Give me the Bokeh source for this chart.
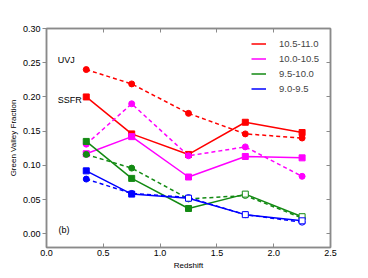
from bokeh.plotting import figure
from bokeh.models import (ColumnDataSource, Legend, LegendItem, LinearAxis, Label,
                          Range1d, FixedTicker, CustomJSTickFormatter)
from bokeh.embed import file_html
from bokeh.resources import INLINE

redshift = [0.35, 0.75, 1.25, 1.75, 2.25]
mass_bins = ["10.5-11.0", "10.0-10.5", "9.5-10.0", "9.0-9.5"]
colors = ["#ff0000", "#ff00ff", "#138a13", "#0000ff"]

# SSFR selection (solid, squares)
ssfr = {
    "10.5-11.0": [0.200, 0.146, 0.116, 0.163, 0.148],
    "10.0-10.5": [0.117, 0.142, 0.083, 0.113, 0.111],
    "9.5-10.0":  [0.135, 0.081, 0.037, 0.058, 0.025],
    "9.0-9.5":   [0.092, 0.058, 0.052, 0.028, 0.019],
}
# UVJ selection (dashed, circles)
uvj = {
    "10.5-11.0": [0.240, 0.219, 0.176, 0.146, 0.140],
    "10.0-10.5": [0.131, 0.190, 0.114, 0.127, 0.084],
    "9.5-10.0":  [0.116, 0.096, 0.051, 0.056, 0.023],
    "9.0-9.5":   [0.080, 0.059, 0.053, 0.028, 0.017],
}
# filled (1) or open (0) markers
filled = {
    "10.5-11.0": [1, 1, 1, 1, 1],
    "10.0-10.5": [1, 1, 1, 1, 1],
    "9.5-10.0":  [1, 1, 1, 0, 0],
    "9.0-9.5":   [1, 1, 0, 0, 0],
}

FONT = "Liberation Sans"
GRAY = "#8a8a8a"

p = figure(width=352, height=272, output_backend="svg", toolbar_location=None,
           x_range=Range1d(0, 2.5), y_range=Range1d(-0.02, 0.30),
           min_border_left=46, min_border_right=22, min_border_top=28,
           min_border_bottom=23)
p.grid.visible = False
p.outline_line_color = GRAY
p.outline_line_width = 1.5
p.background_fill_color = "white"

legend_items = []
for name, col in zip(mass_bins, colors):
    fills = [col if f else "white" for f in filled[name]]
    src_s = ColumnDataSource(dict(x=redshift, y=ssfr[name], fc=fills))
    src_u = ColumnDataSource(dict(x=redshift, y=uvj[name], fc=fills))
    p.line("x", "y", source=src_u, line_color=col, line_width=1.5, line_dash="4 3")
    p.scatter("x", "y", source=src_u, marker="circle", size=6, line_color=col,
              fill_color="fc", line_width=1)
    ls = p.line("x", "y", source=src_s, line_color=col, line_width=1.5)
    p.scatter("x", "y", source=src_s, marker="square", size=6, line_color=col,
              fill_color="fc", line_width=1)
    legend_items.append(LegendItem(label=name, renderers=[ls]))

xt = FixedTicker(ticks=[0.0, 0.5, 1.0, 1.5, 2.0, 2.5])
yt = FixedTicker(ticks=[0.0, 0.05, 0.10, 0.15, 0.20, 0.25, 0.30])

for ax in p.xaxis:
    ax.ticker = xt
    ax.axis_label = "Redshift"
for ax in p.yaxis:
    ax.ticker = yt
    ax.axis_label = "Green Valley Fraction"

p.xaxis.major_tick_in = 4
p.xaxis.major_tick_out = 0
p.yaxis.major_tick_in = 0
p.yaxis.major_tick_out = 4
p.axis.minor_tick_line_color = None
p.axis.axis_line_color = GRAY
p.axis.axis_line_width = 1.5
p.axis.major_tick_line_color = GRAY
p.axis.major_label_text_font = FONT
p.axis.major_label_text_font_size = "9px"
p.axis.major_label_text_color = "black"
p.axis.axis_label_text_font = FONT
p.axis.axis_label_text_font_size = "8px"
p.axis.axis_label_text_font_style = "normal"
p.axis.axis_label_text_color = "black"
p.xaxis.major_label_standoff = 2
p.yaxis.major_label_standoff = 2
p.axis.axis_label_standoff = 2
p.xaxis.formatter = CustomJSTickFormatter(code="return tick.toFixed(1);")
p.yaxis.formatter = CustomJSTickFormatter(code="return tick.toFixed(2);")

blank = CustomJSTickFormatter(code="return '';")
top = LinearAxis(ticker=xt, major_tick_in=4, major_tick_out=0, formatter=blank,
                 major_label_standoff=0, minor_tick_line_color=None,
                 axis_line_color=GRAY, major_tick_line_color=GRAY, axis_line_width=1.5)
right = LinearAxis(ticker=yt, major_tick_in=4, major_tick_out=0, formatter=blank,
                   major_label_standoff=0, minor_tick_line_color=None,
                   axis_line_color=GRAY, major_tick_line_color=GRAY, axis_line_width=1.5)
p.add_layout(top, "above")
p.add_layout(right, "right")

for txt, xx, yy in [("UVJ", 0.1, 0.254), ("SSFR", 0.1, 0.195), ("(b)", 0.105, 0.005)]:
    p.add_layout(Label(x=xx, y=yy, text=txt, text_font=FONT, text_font_size="9px",
                       text_baseline="middle", text_align="left", text_color="black"))

legend = Legend(items=legend_items, location=(205, 153), margin=0, padding=7,
                border_line_color=None, background_fill_alpha=0,
                label_text_font=FONT, label_text_font_size="9.5px",
                glyph_width=15, glyph_height=11, label_height=11, spacing=4,
                label_standoff=13)
p.add_layout(legend)

open("out.html", "w").write(file_html(p, INLINE))
